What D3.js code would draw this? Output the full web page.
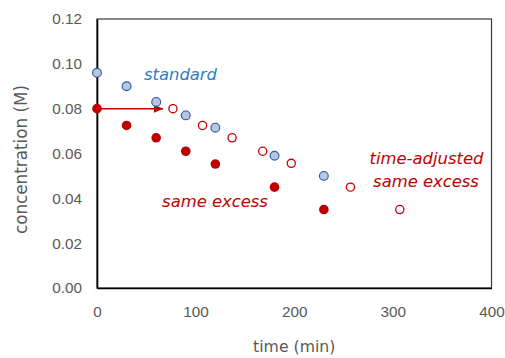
<!DOCTYPE html>
<html>
<head>
<meta charset="utf-8">
<script src="https://cdn.jsdelivr.net/npm/d3@7"></script>
<style>
  body { margin: 0; background: #fff; }
  svg { display: block; font-family: "DejaVu Sans", sans-serif; }
</style>
</head>
<body>
<svg id="chart" width="505" height="358"></svg>
<script>
// Data
const standardTime = [0, 30, 60, 90, 120, 180, 230];
const standardConc = [0.096, 0.090, 0.083, 0.077, 0.0715, 0.059, 0.050];

const sameTime = [0, 30, 60, 90, 120, 180, 230];
const sameConc = [0.080, 0.0725, 0.067, 0.061, 0.0553, 0.045, 0.035];

const adjustedTime = [77, 107, 137, 168, 197, 257, 307];
const adjustedConc = [0.080, 0.0725, 0.067, 0.061, 0.0556, 0.045, 0.035];

const xTicks = [0, 100, 200, 300, 400];
const yTicks = [0, 0.02, 0.04, 0.06, 0.08, 0.1, 0.12];

// time shift arrow (min, M)
const arrowFrom = [0, 0.08];
const arrowTo = [67, 0.08];

const width = 505;
const height = 358;
const margin = { top: 19, right: 13.5, bottom: 70, left: 97 };

const svg = d3.select("#chart");

const xScale = d3
  .scaleLinear()
  .domain([0, 400])
  .range([margin.left, width - margin.right]);

const yScale = d3
  .scaleLinear()
  .domain([0, 0.12])
  .range([height - margin.bottom, margin.top]);

// Plot frame
svg
  .append("rect")
  .attr("x", xScale(0))
  .attr("y", yScale(0.12))
  .attr("width", xScale(400) - xScale(0))
  .attr("height", yScale(0) - yScale(0.12))
  .attr("fill", "none")
  .attr("stroke", "#3a3a3a")
  .attr("stroke-width", 1.2);

// Y axis
const yAxis = svg
  .append("g")
  .attr("transform", `translate(${margin.left},0)`)
  .call(
    d3
      .axisLeft(yScale)
      .tickValues(yTicks)
      .tickSize(0)
      .tickPadding(15)
      .tickFormat(d3.format(".2f"))
  );
yAxis.select(".domain").attr("stroke", "#000").attr("stroke-width", 1.6);
yAxis
  .selectAll("text")
  .attr("fill", "#595959")
  .style("font-size", "15.3px");

// X axis
const xAxis = svg
  .append("g")
  .attr("transform", `translate(0,${height - margin.bottom})`)
  .call(d3.axisBottom(xScale).tickValues(xTicks).tickSize(0).tickPadding(18));
xAxis.select(".domain").attr("stroke", "#000").attr("stroke-width", 1.6);
xAxis
  .selectAll("text")
  .attr("fill", "#595959")
  .style("font-size", "15.3px");

// Axis titles
svg
  .append("text")
  .attr("x", (xScale(0) + xScale(400)) / 2)
  .attr("y", 352)
  .attr("fill", "#595959")
  .style("font-size", "15.7px")
  .style("text-anchor", "middle")
  .text("time (min)");

svg
  .append("text")
  .attr("transform", "rotate(-90)")
  .attr("x", -159.5)
  .attr("y", 27)
  .attr("fill", "#595959")
  .style("font-size", "16.8px")
  .style("text-anchor", "middle")
  .text("concentration (M)");

// Arrow
svg
  .append("defs")
  .append("marker")
  .attr("id", "arrowhead")
  .attr("markerUnits", "userSpaceOnUse")
  .attr("markerWidth", 10)
  .attr("markerHeight", 8)
  .attr("refX", 9)
  .attr("refY", 4)
  .attr("orient", "auto")
  .append("path")
  .attr("d", "M0,0 L9,4 L0,8 Z")
  .attr("fill", "#c00000");

svg
  .append("line")
  .attr("x1", xScale(arrowFrom[0]))
  .attr("y1", yScale(arrowFrom[1]))
  .attr("x2", xScale(arrowTo[0]))
  .attr("y2", yScale(arrowTo[1]))
  .attr("stroke", "#c00000")
  .attr("stroke-width", 1.5)
  .attr("marker-end", "url(#arrowhead)");

// Time-adjusted (open red)
svg
  .append("g")
  .selectAll("circle")
  .data(d3.zip(adjustedTime, adjustedConc))
  .enter()
  .append("circle")
  .attr("cx", (d) => xScale(d[0]))
  .attr("cy", (d) => yScale(d[1]))
  .attr("r", 4.1)
  .attr("fill", "#fff")
  .attr("stroke", "#c00000")
  .attr("stroke-width", 1.3);

// Same excess (filled red)
svg
  .append("g")
  .selectAll("circle")
  .data(d3.zip(sameTime, sameConc))
  .enter()
  .append("circle")
  .attr("cx", (d) => xScale(d[0]))
  .attr("cy", (d) => yScale(d[1]))
  .attr("r", 4.8)
  .attr("fill", "#c00000");

// Standard (blue)
svg
  .append("g")
  .selectAll("circle")
  .data(d3.zip(standardTime, standardConc))
  .enter()
  .append("circle")
  .attr("cx", (d) => xScale(d[0]))
  .attr("cy", (d) => yScale(d[1]))
  .attr("r", 4.4)
  .attr("fill", "#b4c7e7")
  .attr("stroke", "#2f5597")
  .attr("stroke-width", 1.1);

// Series labels
const labels = [
  { text: "standard", x: 180.5, y: 80, color: "#2e7cc4" },
  { text: "same excess", x: 215, y: 207, color: "#c00000" },
  { text: "time-adjusted", x: 426.5, y: 164, color: "#c00000" },
  { text: "same excess", x: 426, y: 187, color: "#c00000" },
];

svg
  .append("g")
  .selectAll("text")
  .data(labels)
  .enter()
  .append("text")
  .attr("x", (d) => d.x)
  .attr("y", (d) => d.y)
  .attr("fill", (d) => d.color)
  .style("font-size", "16.4px")
  .style("font-style", "italic")
  .style("text-anchor", "middle")
  .text((d) => d.text);
</script>
</body>
</html>
